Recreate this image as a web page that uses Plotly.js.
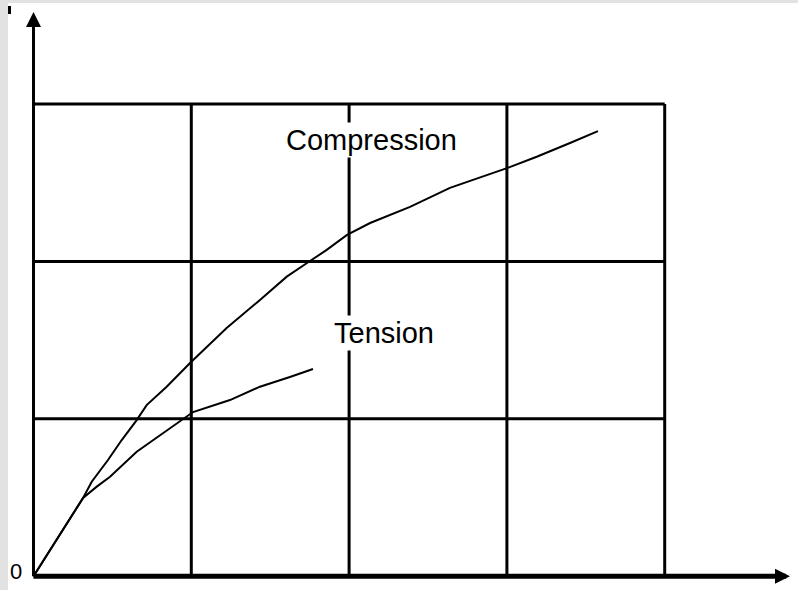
<!DOCTYPE html>
<html>
<head>
<meta charset="utf-8">
<script src="https://cdn.plot.ly/plotly-3.0.1.min.js"></script>
<style>
html,body{margin:0;padding:0;background:#e2e2e2;width:798px;height:590px;overflow:hidden;}
#chart{position:absolute;left:8px;top:3px;width:790px;height:587px;background:#fff;}
</style>
</head>
<body>
<div id="chart"></div>
<script>
// Curve data (strain on x, stress on y, grid units)
const compressionX = [0, 0.314, 0.369, 0.472, 0.559, 0.654, 0.717, 0.844, 0.992, 1.224, 1.435, 1.605, 1.731, 1.858, 1.987, 2.133, 2.386, 2.639, 3.005, 3.189, 3.400, 3.577];
const compressionY = [0, 0.497, 0.600, 0.738, 0.865, 0.992, 1.087, 1.204, 1.354, 1.577, 1.755, 1.903, 1.988, 2.073, 2.168, 2.244, 2.346, 2.467, 2.594, 2.665, 2.752, 2.828];
const tensionX = [0, 0.314, 0.401, 0.485, 0.654, 0.821, 0.939, 1.011, 1.245, 1.435, 1.625, 1.771];
const tensionY = [0, 0.497, 0.569, 0.632, 0.791, 0.910, 0.993, 1.043, 1.119, 1.204, 1.266, 1.316];
const gridX = [1, 2, 3, 4];
const gridY = [1, 2, 3];
const labels = {compression: "Compression", tension: "Tension", origin: "0"};

const traces = [
  {x: compressionX, y: compressionY, mode: "lines", line: {color: "#000", width: 2}, hoverinfo: "skip"},
  {x: tensionX, y: tensionY, mode: "lines", line: {color: "#000", width: 2}, hoverinfo: "skip"}
];

const xMax = gridX[gridX.length - 1];
const yMax = gridY[gridY.length - 1];
const shapes = [];
gridX.forEach(v => shapes.push({type: "line", xref: "x", yref: "y", x0: v, x1: v, y0: 0, y1: yMax, line: {color: "#000", width: 3}, layer: "below"}));
gridY.forEach(v => shapes.push({type: "line", xref: "x", yref: "y", x0: 0, x1: xMax, y0: v, y1: v, line: {color: "#000", width: 3}, layer: "below"}));
shapes.push({type: "rect", xref: "paper", yref: "paper", x0: 0, x1: 3/790, y0: 1 - 11/587, y1: 1 - 3/587, fillcolor: "#000", line: {width: 0}});

const font = {family: "Liberation Sans, Arial, sans-serif", size: 29, color: "#000"};
const annotations = [
  // y axis with arrow
  {x: 0, y: 3.584, ax: 0, ay: -0.01, xref: "x", yref: "y", axref: "x", ayref: "y", text: "", showarrow: true, arrowhead: 2, arrowsize: 1, arrowwidth: 3, arrowcolor: "#000", standoff: 0},
  // x axis with arrow
  {x: 4.794, y: 0, ax: -0.01, ay: 0, xref: "x", yref: "y", axref: "x", ayref: "y", text: "", showarrow: true, arrowhead: 2, arrowsize: 0.6, arrowwidth: 5, arrowcolor: "#000", standoff: 0},
  {x: 2.142, y: 2.771, xref: "x", yref: "y", text: labels.compression, showarrow: false, font: font, bgcolor: "#fff", borderpad: 1, xanchor: "center", yanchor: "middle"},
  {x: 2.218, y: 1.542, xref: "x", yref: "y", text: labels.tension, showarrow: false, font: font, bgcolor: "#fff", borderpad: 1, xanchor: "center", yanchor: "middle"},
  {x: -0.068, y: 0.033, xref: "x", yref: "y", text: labels.origin, showarrow: false,
   font: {family: "Liberation Sans Narrow, Arial Narrow, Liberation Sans, sans-serif", size: 22, color: "#000"},
   xanchor: "right", yanchor: "middle", borderpad: 0}
];

const layout = {
  width: 790, height: 587,
  margin: {l: 0, r: 0, t: 0, b: 0, pad: 0},
  paper_bgcolor: "#fff", plot_bgcolor: "#fff",
  showlegend: false,
  xaxis: {range: [-0.1616, 4.8447], visible: false, fixedrange: true},
  yaxis: {range: [-0.0877, 3.6417], visible: false, fixedrange: true},
  shapes: shapes,
  annotations: annotations
};

Plotly.newPlot("chart", traces, layout, {staticPlot: true, displayModeBar: false});
</script>
</body>
</html>
